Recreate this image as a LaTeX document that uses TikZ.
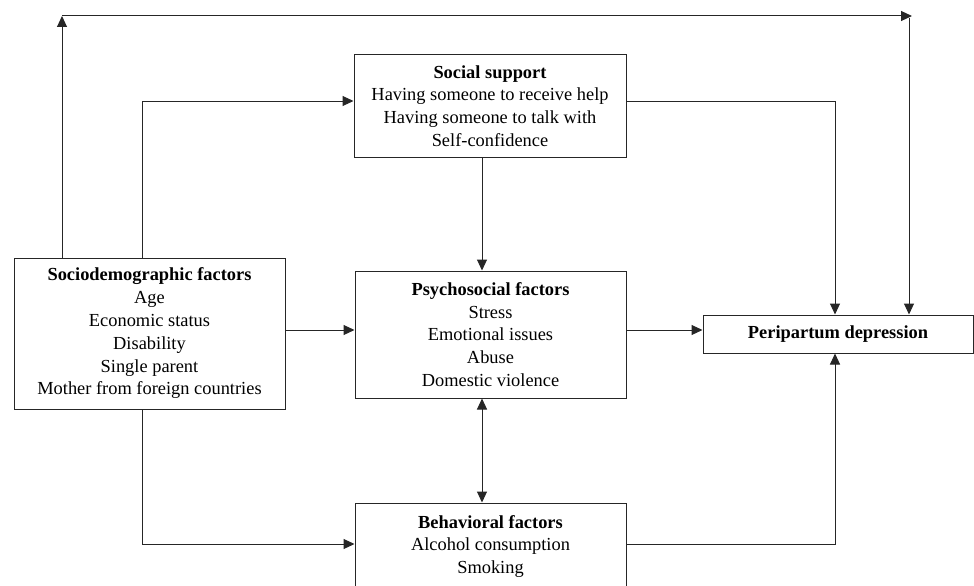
\documentclass[tikz,border=0pt]{standalone}
\usepackage{fontspec}
\setmainfont{Liberation Serif}
\usetikzlibrary{arrows.meta,calc}
\begin{document}
\begin{tikzpicture}[x=1pt,y=-1pt,
  box/.style={draw=black!85,line width=1pt,align=center,inner sep=0pt,
    font=\fontsize{18.4}{22.8}\selectfont},
  arr/.style={draw=black!85,line width=1pt,-{Triangle[length=11pt,width=10pt]}},
  darr/.style={draw=black!85,line width=1pt,{Triangle[length=11pt,width=10pt]}-{Triangle[length=11pt,width=10pt]}},
  ln/.style={draw=black!85,line width=1pt}]
\useasboundingbox (0,0) rectangle (974,586);
\clip (0,0) rectangle (974,586);

\node[box,minimum width=271pt,minimum height=151pt] (socio) at (149.5,333.5)
  {\textbf{Sociodemographic factors}\\Age\\Economic status\\Disability\\Single parent\\Mother from foreign countries};
\node[box,minimum width=272pt,minimum height=102pt] (social) at (490,106)
  {\textbf{Social support}\\Having someone to receive help\\Having someone to talk with\\Self-confidence};
\node[box,minimum width=271pt,minimum height=127pt] (psych) at (490.5,334.5)
  {\textbf{Psychosocial factors}\\Stress\\Emotional issues\\Abuse\\Domestic violence};
\node[box,minimum width=270pt,minimum height=38pt] (peri) at (838,334)
  {\textbf{Peripartum depression}};
\node[box,minimum width=271pt,minimum height=87pt] (behav) at (490.5,546.5)
  {\textbf{Behavioral factors}\\Alcohol consumption\\Smoking};

\coordinate (x62) at (62,0);
\coordinate (x142) at (142,0);
\coordinate (x482) at (482,0);
\coordinate (x835) at (835,0);
\coordinate (x909) at (909,0);
\coordinate (y101) at (0,101);
\coordinate (y330) at (0,330);
\coordinate (y544) at (0,544);
\coordinate (tl) at (62,16);
\coordinate (tr) at (912,16);

% top loop
\draw[arr] (socio.north -| x62) -- (tl);
\draw[arr] (tl) -- (tr);
\draw[arr] (x909 |- 0,18) -- (peri.north -| x909);
% socio -> social support
\draw[arr] (socio.north -| x142) |- (social.west |- y101);
% social support -> peripartum
\draw[arr] (social.east |- y101) -| (peri.north -| x835);
% social -> psych
\draw[arr] (social.south -| x482) -- (psych.north -| x482);
% socio -> psych
\draw[arr] (socio.east |- y330) -- (psych.west |- y330);
% psych -> peri
\draw[arr] (psych.east |- y330) -- (peri.west |- y330);
% psych <-> behav
\draw[darr] (psych.south -| x482) -- (behav.north -| x482);
% socio -> behav
\draw[arr] (socio.south -| x142) |- (behav.west |- y544);
% behav -> peri
\draw[arr] (behav.east |- y544) -| (peri.south -| x835);
\end{tikzpicture}
\end{document}
